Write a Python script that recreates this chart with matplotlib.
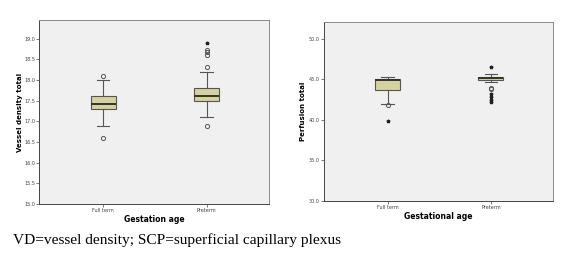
import matplotlib
matplotlib.use("Agg")
import matplotlib.pyplot as plt
from matplotlib.ticker import FormatStrFormatter

# Box statistics (SPSS-style boxplots)
groups = ["Full term", "Preterm"]

vd_q1 = [17.29, 17.49]
vd_med = [17.41, 17.60]
vd_q3 = [17.61, 17.80]
vd_whislo = [16.89, 17.10]
vd_whishi = [18.00, 18.20]
vd_outliers = [[18.10, 16.60], [18.31, 18.60, 18.68, 18.72, 16.89]]
vd_extremes = [[], [18.90]]

pf_q1 = [43.76, 44.90]
pf_med = [44.95, 45.15]
pf_q3 = [45.00, 45.30]
pf_whislo = [42.00, 44.75]
pf_whishi = [45.28, 45.65]
pf_outliers = [[41.80], [43.85, 43.95]]
pf_extremes = [[39.90], [46.55, 43.20, 42.80, 42.50, 42.25]]

BOX_COLOR = "#d6d29c"
BG = "#f0f0f0"
EDGE = "#555555"


def draw_panel(ax, q1, med, q3, lo, hi, outliers, extremes):
    stats = []
    for i in range(len(groups)):
        stats.append({"med": med[i], "q1": q1[i], "q3": q3[i],
                      "whislo": lo[i], "whishi": hi[i], "fliers": outliers[i]})
    ax.bxp(stats, positions=[1, 2], widths=0.24, patch_artist=True,
           boxprops=dict(facecolor=BOX_COLOR, edgecolor=EDGE, linewidth=0.8),
           medianprops=dict(color="#333333", linewidth=1.4),
           whiskerprops=dict(color=EDGE, linewidth=0.8),
           capprops=dict(color=EDGE, linewidth=0.8),
           flierprops=dict(marker="o", markersize=3, markerfacecolor="none",
                           markeredgecolor=EDGE, markeredgewidth=0.7))
    for i, ext in enumerate(extremes):
        if ext:
            ax.plot([i + 1] * len(ext), ext, linestyle="none", marker="*",
                    markersize=2.5, color="#222222")
    ax.set_facecolor(BG)
    ax.set_xlim(0.381, 2.599)
    ax.set_xticks([1, 2])
    ax.set_xticklabels(groups)
    ax.yaxis.set_major_formatter(FormatStrFormatter("%.1f"))
    ax.tick_params(labelsize=3.5, length=2, width=0.5, colors="#444444", pad=1)
    for s in ax.spines.values():
        s.set_color("#888888")
        s.set_linewidth(0.7)
    ax.spines["left"].set_color("#444444")
    ax.spines["bottom"].set_color("#444444")


fig = plt.figure(figsize=(5.68, 2.62), dpi=100)

ax1 = fig.add_axes([0.069, 0.221, 0.404, 0.703])
draw_panel(ax1, vd_q1, vd_med, vd_q3, vd_whislo, vd_whishi, vd_outliers, vd_extremes)
ax1.set_ylim(15.0, 19.45)
ax1.set_yticks([15.0, 15.5, 16.0, 16.5, 17.0, 17.5, 18.0, 18.5, 19.0])
ax1.set_ylabel("Vessel density total", fontsize=5, fontweight="bold", labelpad=1)
ax1.set_xlabel("Gestation age", fontsize=5.5, fontweight="bold", labelpad=1)

ax2 = fig.add_axes([0.570, 0.233, 0.403, 0.683])
draw_panel(ax2, pf_q1, pf_med, pf_q3, pf_whislo, pf_whishi, pf_outliers, pf_extremes)
ax2.set_ylim(30.0, 52.1)
ax2.set_yticks([30.0, 35.0, 40.0, 45.0, 50.0])
ax2.set_ylabel("Perfusion total", fontsize=5, fontweight="bold", labelpad=2)
ax2.set_xlabel("Gestational age", fontsize=5.5, fontweight="bold", labelpad=1)

fig.text(0.023, 0.084, "VD=vessel density; SCP=superficial capillary plexus",
         fontsize=11.1, family="Liberation Serif", va="center", ha="left")

fig.savefig("out.png", dpi=100, facecolor="white")
